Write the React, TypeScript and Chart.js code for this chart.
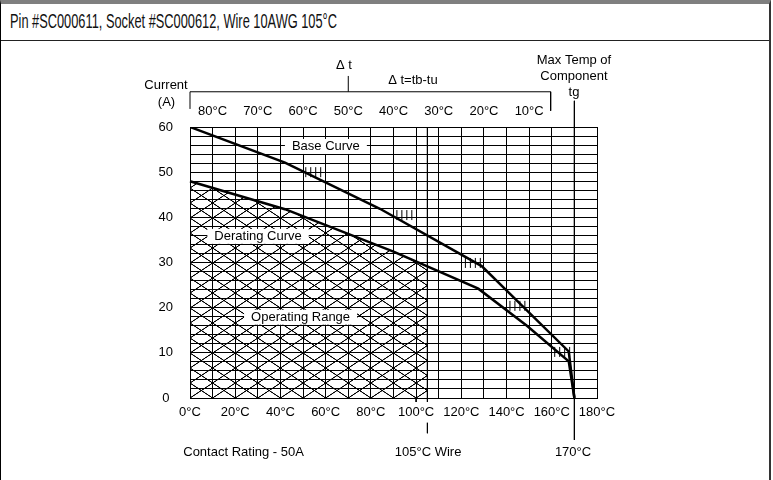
import React, { useEffect, useRef } from 'react';
import { Chart, registerables } from 'chart.js';

Chart.register(...registerables);

const TITLE = 'Pin #SC000611, Socket #SC000612, Wire 10AWG 105°C';
const FONT = '"Liberation Sans", Arial, sans-serif';
const TITLE_WIDTH = 327;

// bottom axis: tb (°C)
const bottomTickValues = [0, 20, 40, 60, 80, 100, 120, 140, 160, 180];
const bottomTickLabels = ['0°C', '20°C', '40°C', '60°C', '80°C', '100°C', '120°C', '140°C', '160°C', '180°C'];
// top axis: Δt
const topTickValues = [10, 30, 50, 70, 90, 110, 130, 150];
const topTickLabels = ['80°C', '70°C', '60°C', '50°C', '40°C', '30°C', '20°C', '10°C'];
// left axis: current (A)
const yTickValues = [0, 10, 20, 30, 40, 50, 60];
const yTickLabels = ['0', '10', '20', '30', '40', '50', '60'];

// curves (temperature °C, current A)
const baseTemp = [0, 42, 84, 129, 167.5, 170];
const baseCurrent = [60, 52.1, 41.9, 29.2, 10.3, 0];
const deratingTemp = [0, 42, 90, 127.5, 149, 167.5, 170];
const deratingCurrent = [48, 41.8, 32.4, 24.2, 16, 8.1, 0];
// operating range (hatched), along derating curve up to the 105°C wire limit
const rangeTemp = [0, 42, 90, 105];
const rangeCurrent = [48, 41.8, 32.4, 29.1];

// hash marks on the base curve
const hashTemp = [51.2, 53.4, 55.6, 57.8, 91.5, 93.7, 95.9, 98.1, 121.8, 124, 126.2, 128.4, 141.5, 143.7, 145.9, 148.1, 161.3, 163.5, 165.7, 167.9];
const hashCurrent = [50, 50, 50, 50, 40.5, 40.5, 40.5, 40.5, 29.9, 29.9, 29.9, 29.9, 20.4, 20.4, 20.4, 20.4, 10.2, 10.2, 10.2, 10.2];

// reference lines
const bracketTemp = [0, 0, 159.5, 159.5];
const bracketCurrent = [64, 67.8, 67.8, 63.6];
const deltaTickTemp = [70, 70];
const deltaTickCurrent = [67.8, 71.3];
const maxTempTemp = [170, 170];
const maxTempCurrent = [65.8, -9.3];
const wireTemp = [105, 105];
const wireCurrent = [60, -7.8];
const tick100Temp = [100, 100];
const tick100Current = [0, -2];

// text annotations (data coords)
const boxedLabels = ['Base Curve', 'Derating Curve', 'Operating Range'];
const boxedTemp = [60.1, 30.1, 48.9];
const boxedCurrent = [55.8, 35.9, 18.0];
const plainLabels = ['Current', '(A)', 'Δ t', 'Δ t=tb-tu', 'Max Temp of', 'Component', 'tg', 'Contact Rating - 50A', '105°C Wire', '170°C'];
const plainTemp = [-10.6, -10.4, 68.1, 98.6, 169.8, 169.8, 169.8, 23.7, 105.3, 169.4];
const plainCurrent = [69.3, 65.5, 73.7, 70.4, 74.8, 71.1, 67.7, -12.0, -12.0, -12.0];

const pts = (xs: number[], ys: number[]) => xs.map((x, i) => ({ x, y: ys[i] }));

export default function App() {
  const ref = useRef<HTMLCanvasElement>(null);
  const titleRef = useRef<HTMLSpanElement>(null);

  useEffect(() => {
    const t = titleRef.current;
    if (t) {
      t.style.transform = '';
      const w = t.getBoundingClientRect().width;
      if (w > 0) t.style.transform = `scaleX(${TITLE_WIDTH / w})`;
    }

    const canvas = ref.current!;
    const ctx = canvas.getContext('2d')!;

    // hatch tile: one X per 10°C column
    const S = 4;
    const tw = 22.61, th = 15;
    const tile = document.createElement('canvas');
    tile.width = Math.round(tw * S);
    tile.height = Math.round(th * S);
    const g = tile.getContext('2d')!;
    g.strokeStyle = '#000';
    g.lineWidth = 1 * S;
    g.beginPath();
    for (let dx = -1; dx <= 1; dx++) {
      for (let dy = -1; dy <= 1; dy++) {
        const ox = dx * tile.width, oy = dy * tile.height;
        g.moveTo(ox, oy); g.lineTo(ox + tile.width, oy + tile.height);
        g.moveTo(ox + tile.width, oy); g.lineTo(ox, oy + tile.height);
      }
    }
    g.stroke();
    const pattern = ctx.createPattern(tile, 'repeat')!;

    const alignPattern = {
      id: 'alignPattern',
      afterLayout(chart: any) {
        const a = chart.chartArea;
        const m = new DOMMatrix();
        m.translateSelf(a.left, a.bottom);
        m.scaleSelf(tw / tile.width, th / tile.height);
        pattern.setTransform(m);
      },
    };

    const annotations = {
      id: 'annotations',
      afterDraw(chart: any) {
        const c = chart.ctx;
        const xs = chart.scales.x, ys = chart.scales.y;
        c.save();
        c.font = `13px ${FONT}`;
        c.textAlign = 'center';
        c.textBaseline = 'middle';
        boxedLabels.forEach((t, i) => {
          const px = xs.getPixelForValue(boxedTemp[i]);
          const py = ys.getPixelForValue(boxedCurrent[i]);
          const w = c.measureText(t).width;
          c.fillStyle = '#fff';
          c.fillRect(px - w / 2 - 7, py - 7, w + 14, 15);
          c.fillStyle = '#000';
          c.fillText(t, px, py + 0.5);
        });
        c.fillStyle = '#000';
        plainLabels.forEach((t, i) => {
          c.fillText(t, xs.getPixelForValue(plainTemp[i]), ys.getPixelForValue(plainCurrent[i]));
        });
        c.restore();
      },
    };

    const thin = (data: any[]) => ({
      data,
      borderColor: '#000',
      borderWidth: 1,
      pointRadius: 0,
      fill: false,
      clip: false as any,
    });

    const chart = new Chart(canvas, {
      type: 'line',
      data: {
        datasets: [
          { data: pts(baseTemp, baseCurrent), borderColor: '#000', borderWidth: 2.5, pointRadius: 0, fill: false },
          { data: pts(deratingTemp, deratingCurrent), borderColor: '#000', borderWidth: 2.5, pointRadius: 0, fill: false, clip: false as any },
          {
            type: 'scatter' as any,
            data: pts(hashTemp, hashCurrent),
            showLine: false,
            pointStyle: 'line',
            rotation: 90,
            pointRadius: 5,
            borderColor: '#000',
            borderWidth: 1,
          } as any,
          thin(pts(bracketTemp, bracketCurrent)),
          thin(pts(deltaTickTemp, deltaTickCurrent)),
          thin(pts(maxTempTemp, maxTempCurrent)),
          thin(pts(wireTemp, wireCurrent)),
          thin(pts(tick100Temp, tick100Current)),
          {
            data: pts(rangeTemp, rangeCurrent),
            borderWidth: 0,
            borderColor: 'rgba(0,0,0,0)',
            pointRadius: 0,
            fill: 'origin',
            backgroundColor: pattern as any,
          },
        ] as any,
      },
      options: {
        animation: false,
        responsive: false,
        events: [],
        layout: { padding: { left: 0, top: 0, right: 176, bottom: 0 } },
        plugins: { legend: { display: false }, tooltip: { enabled: false }, title: { display: false } },
        scales: {
          x: {
            type: 'linear',
            position: 'bottom',
            min: 0,
            max: 180,
            ticks: {
              z: 1,
              stepSize: 10,
              autoSkip: false,
              maxRotation: 0,
              padding: 7,
              color: '#000',
              font: { family: FONT, size: 13 },
              showLabelBackdrop: true,
              backdropColor: '#fff',
              backdropPadding: { top: 3, bottom: 2, left: 0, right: 0 },
              callback: (v: any) => {
                const i = bottomTickValues.indexOf(Number(v));
                return i >= 0 ? bottomTickLabels[i] : '';
              },
            } as any,
            grid: { color: '#000', lineWidth: 1, drawTicks: false },
            border: { color: '#000', width: 1 },
            afterFit: (s: any) => { s.height = 82; },
          },
          x2: {
            type: 'linear',
            position: 'top',
            min: 0,
            max: 180,
            ticks: {
              stepSize: 10,
              autoSkip: false,
              maxRotation: 0,
              padding: 8,
              color: '#000',
              font: { family: FONT, size: 13 },
              callback: (v: any) => {
                const i = topTickValues.indexOf(Number(v));
                return i >= 0 ? topTickLabels[i] : '';
              },
            },
            grid: { display: false, drawTicks: false },
            border: { display: false },
            afterFit: (s: any) => { s.height = 127; },
          } as any,
          y: {
            type: 'linear',
            min: 0,
            max: 60,
            ticks: {
              stepSize: 2,
              autoSkip: false,
              padding: 17,
              crossAlign: 'center',
              color: '#000',
              font: { family: FONT, size: 13 },
              callback: (v: any) => {
                const i = yTickValues.indexOf(Number(v));
                return i >= 0 ? yTickLabels[i] : '';
              },
            },
            grid: { color: '#000', lineWidth: 1, drawTicks: false },
            border: { color: '#000', width: 1 },
            afterFit: (s: any) => { s.width = 190; },
          },
        },
      } as any,
      plugins: [alignPattern, annotations],
    });

    return () => chart.destroy();
  }, []);

  return (
    <div style={{ position: 'absolute', left: 0, top: 0, width: 773, height: 480, background: '#fff' }}>
      <div
        style={{
          position: 'absolute', left: 0, top: 0, width: 771, height: 480, boxSizing: 'border-box',
          borderTop: '4px solid #7f7f7f', borderLeft: '1px solid #000', borderRight: '2px solid #333',
        }}
      />
      <div
        style={{
          position: 'absolute', left: 1, top: 4, width: 768, height: 37, boxSizing: 'border-box',
          borderBottom: '1px solid #222', paddingLeft: 9, lineHeight: '35px',
          fontFamily: FONT, fontSize: 20, color: '#111', whiteSpace: 'nowrap', overflow: 'hidden',
        }}
      >
        <span ref={titleRef} style={{ display: 'inline-block', transformOrigin: 'left center' }}>{TITLE}</span>
      </div>
      <canvas ref={ref} width={773} height={480} style={{ position: 'absolute', left: 0, top: 0, width: 773, height: 480 }} />
    </div>
  );
}
